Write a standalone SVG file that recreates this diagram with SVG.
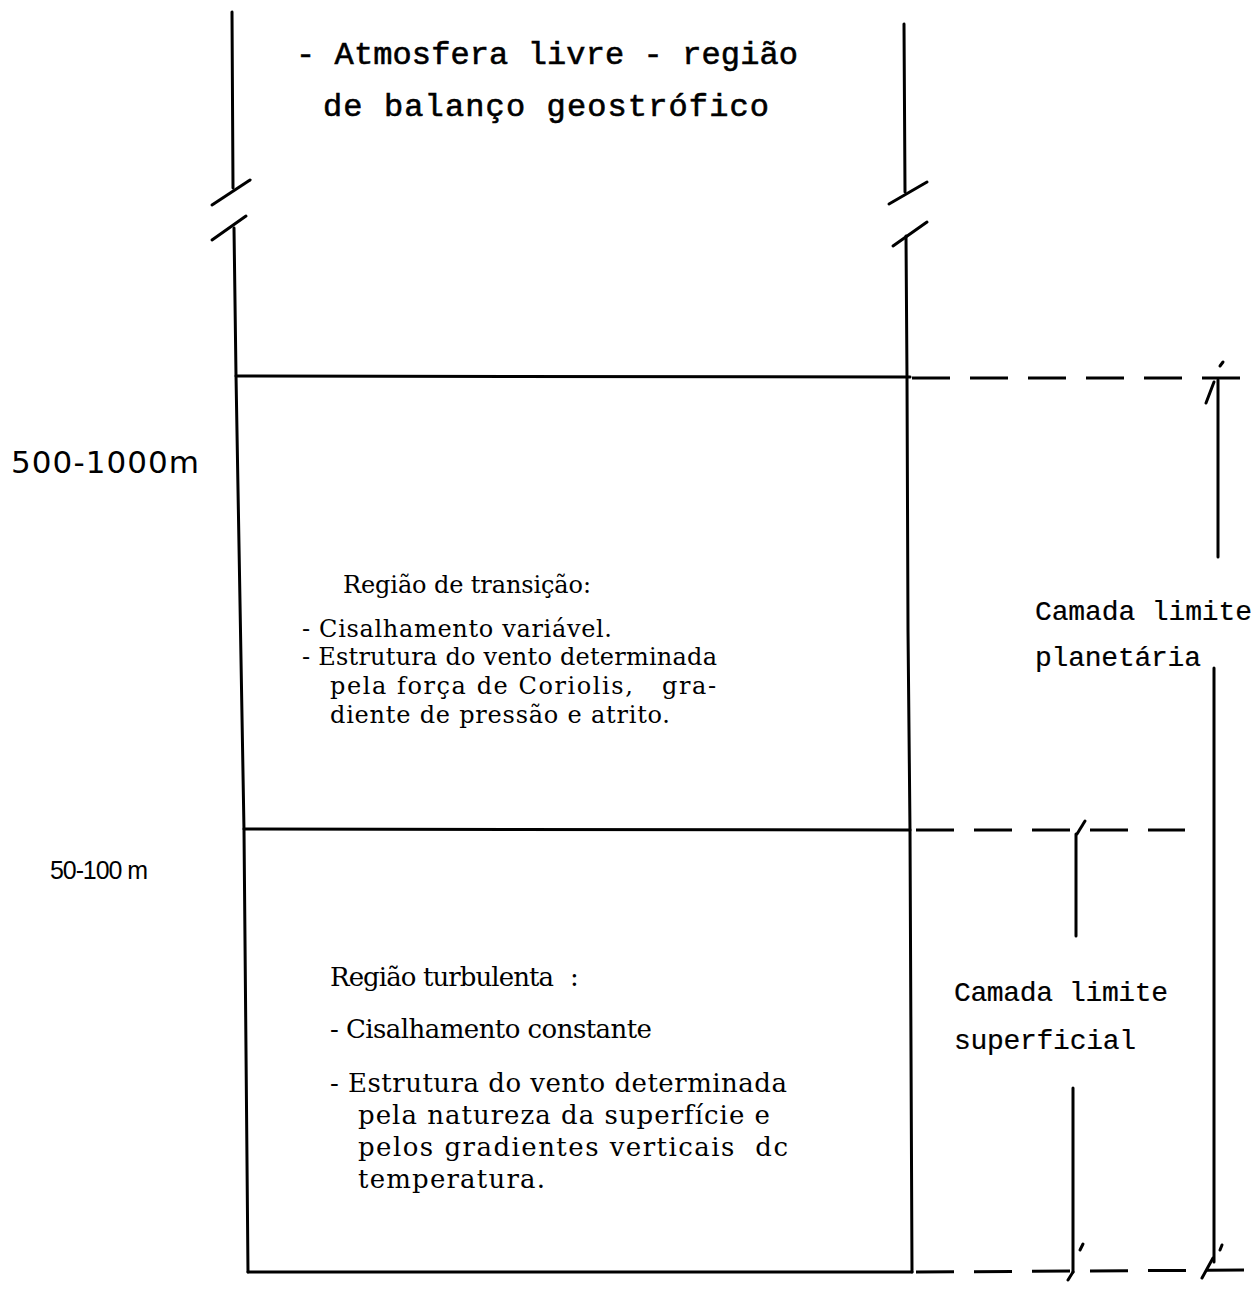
<svg xmlns="http://www.w3.org/2000/svg" width="1253" height="1290" viewBox="0 0 1253 1290">
<style>
.ln{stroke:#000;stroke-width:3;fill:none;stroke-linecap:round}
.dl{stroke:#000;stroke-width:3;fill:none;stroke-dasharray:38 20}
.mono{font-family:"Liberation Mono","DejaVu Sans Mono",monospace;fill:#000;stroke:#000;stroke-width:0.6}
.mono2{font-family:"Liberation Mono","DejaVu Sans Mono",monospace;fill:#000;stroke:#000;stroke-width:0.2}
.sans{font-family:"DejaVu Sans","Liberation Sans",sans-serif;fill:#000}
.ser{font-family:"DejaVu Serif","Liberation Serif",serif;fill:#000}
</style>
<rect width="1253" height="1290" fill="#fff"/>
<g id="connectors">
  <path class="ln" d="M232,12 L233,188"/>
  <path class="ln" d="M212,205 L250,180"/>
  <path class="ln" d="M212,240 L246,216"/>
  <path class="ln" d="M234,228 L236,375 L244,830 L248,1272"/>
  <path class="ln" d="M904,24 L905,192"/>
  <path class="ln" d="M889,204 L927,182"/>
  <path class="ln" d="M893,246 L927,222"/>
  <path class="ln" d="M906,236 L907,378 L908,630 L910,830 L912,1272"/>
  <path class="ln" d="M236,376 L910,377"/>
  <path class="dl" d="M912,378 L1253,378"/>
  <path class="ln" d="M244,829 L910,830"/>
  <path class="dl" d="M916,830 L1185,830"/>
  <path class="ln" d="M248,1272 L912,1272"/>
  <path class="dl" d="M916,1272 L1253,1270"/>
  <path class="ln" d="M1218,380 L1218,557"/>
  <path class="ln" d="M1214,382 L1206,403"/>
  <path class="ln" d="M1220,366 L1223,362"/>
  <path class="ln" d="M1214,668 L1214,1262"/>
  <path class="ln" d="M1213,1258 L1202,1278"/>
  <path class="ln" d="M1220,1250 L1222,1245"/>
  <path class="ln" d="M1076,834 L1076,936"/>
  <path class="ln" d="M1077,834 L1085,821"/>
  <path class="ln" d="M1073,1088 L1073,1272"/>
  <path class="ln" d="M1073,1272 L1068,1280"/>
  <path class="ln" d="M1080,1250 L1083,1244"/>
</g>
<g id="free-atmosphere">
  <text class="mono" x="296" y="64" font-size="32" textLength="502">- Atmosfera livre - região</text>
  <text class="mono" x="323" y="116" font-size="32" textLength="446">de balanço geostrófico</text>
</g>
<g id="label-500-1000">
  <text class="sans" x="11" y="473" font-size="31" textLength="188">500-1000m</text>
</g>
<g id="label-50-100">
  <text x="50" y="879" font-size="25" textLength="98" style="font-family:'Liberation Sans',Arial,sans-serif;fill:#000" xml:space="preserve">50-100 m</text>
</g>
<g id="transition-region">
  <text class="ser" x="343" y="593" font-size="24" textLength="248">Região de transição:</text>
  <text class="ser" x="302" y="637" font-size="24" textLength="310">- Cisalhamento variável.</text>
  <text class="ser" x="302" y="665" font-size="24" textLength="415">- Estrutura do vento determinada</text>
  <text class="ser" x="330" y="694" font-size="24" textLength="386" xml:space="preserve">pela força de Coriolis,   gra-</text>
  <text class="ser" x="330" y="723" font-size="24" textLength="340">diente de pressão e atrito.</text>
</g>
<g id="turbulent-region">
  <text class="ser" x="330" y="986" font-size="26" textLength="224">Região turbulenta</text>
  <text class="ser" x="570" y="986" font-size="26">:</text>
  <text class="ser" x="330" y="1038" font-size="26" textLength="322">- Cisalhamento constante</text>
  <text class="ser" x="330" y="1092" font-size="26" textLength="457">- Estrutura do vento determinada</text>
  <text class="ser" x="358" y="1124" font-size="26" textLength="412">pela natureza da superfície e</text>
  <text class="ser" x="358" y="1156" font-size="26" textLength="430" xml:space="preserve">pelos gradientes verticais  dc</text>
  <text class="ser" x="358" y="1188" font-size="26" textLength="187">temperatura.</text>
</g>
<g id="planetary-layer">
  <text class="mono2" x="1035" y="620" font-size="28" textLength="217">Camada limite</text>
  <text class="mono2" x="1035" y="666" font-size="28" textLength="166">planetária</text>
</g>
<g id="surface-layer">
  <text class="mono2" x="954" y="1001" font-size="28" textLength="214">Camada limite</text>
  <text class="mono2" x="954" y="1049" font-size="28" textLength="182">superficial</text>
</g>
</svg>
